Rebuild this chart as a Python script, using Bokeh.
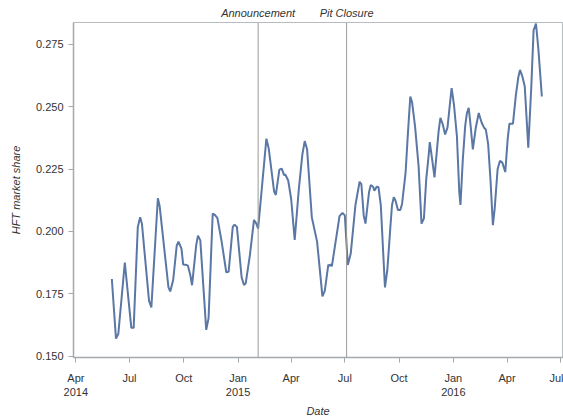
import pandas as pd
from bokeh.plotting import figure
from bokeh.models import (Range1d, FixedTicker, Span, NumeralTickFormatter,
                          DatetimeAxis)
from bokeh.embed import file_html
from bokeh.resources import INLINE

# HFT share of volume, sampled at the turning points of the series
dates = [
    "2014-06-01", "2014-06-08", "2014-06-12", "2014-06-23",
    "2014-07-04", "2014-07-08", "2014-07-15", "2014-07-19", "2014-07-22",
    "2014-08-03", "2014-08-07", "2014-08-18", "2014-08-21",
    "2014-09-05", "2014-09-08", "2014-09-13", "2014-09-19", "2014-09-22", "2014-09-27", "2014-09-30",
    "2014-10-06", "2014-10-08", "2014-10-12", "2014-10-15", "2014-10-22", "2014-10-25", "2014-10-29",
    "2014-11-08", "2014-11-12", "2014-11-19", "2014-11-23", "2014-11-27",
    "2014-12-04", "2014-12-12", "2014-12-16", "2014-12-23", "2014-12-26", "2014-12-30",
    "2015-01-07", "2015-01-11", "2015-01-14", "2015-01-21", "2015-01-28",
    "2015-02-01", "2015-02-04", "2015-02-18", "2015-02-22",
    "2015-03-03", "2015-03-06", "2015-03-12", "2015-03-16", "2015-03-20", "2015-03-22", "2015-03-27",
    "2015-04-01", "2015-04-07", "2015-04-14", "2015-04-20", "2015-04-24", "2015-04-28",
    "2015-05-06", "2015-05-12", "2015-05-15", "2015-05-24", "2015-05-28",
    "2015-06-03", "2015-06-05", "2015-06-07", "2015-06-09", "2015-06-22", "2015-06-27",
    "2015-07-01", "2015-07-06", "2015-07-11", "2015-07-19", "2015-07-26", "2015-07-29",
    "2015-08-02", "2015-08-05", "2015-08-11", "2015-08-14", "2015-08-18", "2015-08-20", "2015-08-24", "2015-08-27", "2015-08-31",
    "2015-09-07", "2015-09-11", "2015-09-16", "2015-09-19", "2015-09-22", "2015-09-25", "2015-09-29",
    "2015-10-03", "2015-10-06", "2015-10-12", "2015-10-16", "2015-10-20", "2015-10-23", "2015-10-28",
    "2015-11-03", "2015-11-08", "2015-11-12", "2015-11-16", "2015-11-20", "2015-11-22", "2015-11-26", "2015-11-30",
    "2015-12-07", "2015-12-10", "2015-12-14", "2015-12-18", "2015-12-22", "2015-12-26", "2015-12-29",
    "2016-01-02", "2016-01-07", "2016-01-11", "2016-01-13", "2016-01-17", "2016-01-21", "2016-01-24", "2016-01-27", "2016-01-30",
    "2016-02-03", "2016-02-08", "2016-02-13", "2016-02-18", "2016-02-22", "2016-02-25", "2016-02-29",
    "2016-03-04", "2016-03-08", "2016-03-11", "2016-03-16", "2016-03-20", "2016-03-24", "2016-03-29",
    "2016-04-02", "2016-04-05", "2016-04-11", "2016-04-16", "2016-04-20", "2016-04-23", "2016-04-27",
    "2016-05-01", "2016-05-07", "2016-05-12", "2016-05-16", "2016-05-20", "2016-05-24", "2016-05-30",
]

hft_share = [
    0.1809, 0.1570, 0.1589, 0.1875,
    0.1613, 0.1613, 0.2018, 0.2057, 0.2031,
    0.1722, 0.1695, 0.2133, 0.2102,
    0.1775, 0.1759, 0.1805, 0.1943, 0.1959, 0.1931, 0.1867,
    0.1865, 0.1862, 0.1825, 0.1784, 0.1944, 0.1983, 0.1964,
    0.1605, 0.1652, 0.2072, 0.2065, 0.2053,
    0.1961, 0.1836, 0.1838, 0.2018, 0.2027, 0.2018,
    0.1816, 0.1785, 0.1792, 0.1904, 0.2046,
    0.2031, 0.2011, 0.2372, 0.2332,
    0.2161, 0.2146, 0.2248, 0.2252, 0.2226, 0.2228, 0.2204,
    0.2130, 0.1966, 0.2170, 0.2309, 0.2362, 0.2329,
    0.2057, 0.1991, 0.1958, 0.1739, 0.1761,
    0.1867, 0.1861, 0.1868, 0.1860, 0.2061, 0.2074,
    0.2064, 0.1865, 0.1911, 0.2106, 0.2199, 0.2190,
    0.2064, 0.2031, 0.2157, 0.2186, 0.2179, 0.2163, 0.2179, 0.2178, 0.2104,
    0.1775, 0.1844, 0.2011, 0.2106, 0.2137, 0.2123, 0.2086,
    0.2086, 0.2110, 0.2236, 0.2396, 0.2541, 0.2518, 0.2422,
    0.2263, 0.2031, 0.2051, 0.2210, 0.2303, 0.2358, 0.2289, 0.2217,
    0.2402, 0.2455, 0.2429, 0.2389, 0.2416, 0.2508, 0.2575,
    0.2508, 0.2382, 0.2157, 0.2106, 0.2289, 0.2422, 0.2475, 0.2496, 0.2429,
    0.2329, 0.2416, 0.2475, 0.2436, 0.2416, 0.2409, 0.2349,
    0.2203, 0.2025, 0.2090, 0.2250, 0.2283, 0.2276, 0.2238,
    0.2369, 0.2432, 0.2432, 0.2548, 0.2617, 0.2648, 0.2621,
    0.2581, 0.2336, 0.2575, 0.2807, 0.2834, 0.2734, 0.2541,
]

# Market events marked with vertical rules
event_names = ["Announcement", "Pit Closure"]
event_dates = ["2015-02-04", "2015-07-04"]

# Quarterly date ticks and their labels
tick_dates = ["2014-04-01", "2014-07-01", "2014-10-01", "2015-01-01", "2015-04-01",
              "2015-07-01", "2015-10-01", "2016-01-01", "2016-04-01", "2016-07-01"]
tick_labels = ["Apr\n2014", "Jul", "Oct", "Jan\n2015", "Apr",
               "Jul", "Oct", "Jan\n2016", "Apr", "Jul"]

y_ticks = [0.150, 0.175, 0.200, 0.225, 0.250, 0.275]

FONT = "Liberation Sans"
TEXT = "#333333"
AXIS = "#a4a9ae"


def to_ms(d):
    return pd.Timestamp(d).value / 1e6


x = pd.to_datetime(dates)

p = figure(
    width=563, height=419,
    x_axis_type="datetime",
    x_range=Range1d(pd.Timestamp("2014-03-28"), pd.Timestamp("2016-07-04")),
    y_range=Range1d(0.1494, 0.2838),
    output_backend="svg", toolbar_location=None,
    min_border_left=73, min_border_right=1, min_border_top=22, min_border_bottom=59,
)
p.background_fill_color = "white"
p.border_fill_color = "white"
p.outline_line_color = "#b8bcc0"
p.xgrid.visible = False
p.ygrid.visible = False

date_axis = p.below[0]
share_axis = p.left[0]

p.line(x, hft_share, line_color="#5a77a5", line_width=2)

event_ms = [to_ms(d) for d in event_dates]
for loc in event_ms:
    p.add_layout(Span(location=loc, dimension="height",
                      line_color="#9a9a9a", line_width=1))

# Event names sit above the frame, one per rule
events_axis = DatetimeAxis(
    ticker=FixedTicker(ticks=event_ms),
    major_label_overrides={t: n for t, n in zip(event_ms, event_names)},
    axis_line_color=None, major_tick_line_color=None, minor_tick_line_color=None,
    major_tick_out=0, major_tick_in=0, major_label_standoff=4,
    major_label_text_font=FONT, major_label_text_font_size="11px",
    major_label_text_font_style="italic", major_label_text_color=TEXT,
)
p.add_layout(events_axis, "above")

tick_ms = [to_ms(d) for d in tick_dates]
date_axis.ticker = FixedTicker(ticks=tick_ms)
date_axis.major_label_overrides = {t: lab for t, lab in zip(tick_ms, tick_labels)}
share_axis.ticker = FixedTicker(ticks=y_ticks)
share_axis.formatter = NumeralTickFormatter(format="0.000")

for ax in (date_axis, share_axis):
    ax.axis_line_color = AXIS
    ax.axis_line_width = 1.5
    ax.major_tick_line_color = AXIS
    ax.minor_tick_line_color = None
    ax.major_tick_out = 5
    ax.major_tick_in = 0
    ax.major_label_text_font = FONT
    ax.major_label_text_font_size = "11px"
    ax.major_label_text_color = TEXT
    ax.axis_label_text_font = FONT
    ax.axis_label_text_font_size = "11px"
    ax.axis_label_text_font_style = "italic"
    ax.axis_label_text_color = TEXT

date_axis.axis_label = "Date"
date_axis.major_label_standoff = 9
date_axis.axis_label_standoff = 4
share_axis.axis_label = "HFT market share"
share_axis.major_label_standoff = 5
share_axis.axis_label_standoff = 11

open("out.html", "w").write(file_html(p, INLINE))
